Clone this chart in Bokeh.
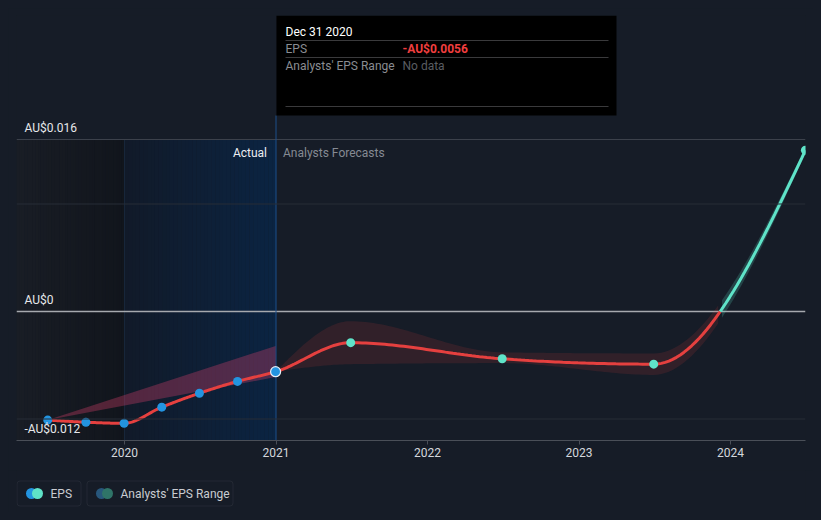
import numpy as np
import pandas as pd
from bokeh.plotting import figure
from bokeh.layouts import column
from bokeh.models import Range1d, FixedTicker, Span, BoxAnnotation
from bokeh.core.properties import value
from bokeh.embed import file_html
from bokeh.resources import INLINE

# ---------------- data ----------------
actual_dates = ["2019-06-30", "2019-09-30", "2019-12-31", "2020-03-31",
                "2020-06-30", "2020-09-30", "2020-12-31"]
actual_eps = [-0.0101, -0.0103, -0.0104, -0.0089, -0.0076, -0.0065, -0.0056]

forecast_dates = ["2021-06-30", "2022-06-30", "2023-06-30", "2024-06-30"]
forecast_eps = [-0.0029, -0.0044, -0.0049, 0.0150]

range_dates = ["2020-12-31", "2021-06-30", "2022-06-30", "2023-06-30", "2024-06-30"]
range_high = [-0.0056, -0.0009, -0.0038, -0.0039, 0.0153]
range_low = [-0.0056, -0.0049, -0.0048, -0.0059, 0.0147]

past_range_dates = ["2019-06-30", "2020-12-31"]
past_range_high = [-0.0101, -0.0032]
past_range_low = [-0.0101, -0.0061]

year_ticks = [2020, 2021, 2022, 2023, 2024]
y_label_values = [0.016, 0.0, -0.012]
y_label_texts = ["AU$0.016", "AU$0", "-AU$0.012"]
grid_values = [-0.01, 0.01]

tooltip_date = "Dec 31 2020"
tooltip_eps = "-AU$0.0056"

# ---------------- styles ----------------
BG = "#161c27"
RED = "#e5403f"
TEAL = "#5fe3c8"
BLUE = "#2394e0"
FONT = value("Roboto")


def to_year(dates):
    d = pd.to_datetime(pd.Series(dates))
    start = pd.to_datetime(d.dt.year.astype(str) + "-01-01")
    days = np.where(d.dt.is_leap_year, 366.0, 365.0)
    return (d.dt.year + (d - start).dt.days / days).to_numpy(float)


def monotone(xs, ys, n=40):
    xs = np.asarray(xs, float)
    ys = np.asarray(ys, float)
    m = len(xs)
    h = np.diff(xs)
    s = np.diff(ys) / h
    t = np.zeros(m)
    if m > 2:
        for i in range(1, m - 1):
            h0, h1 = h[i - 1], h[i]
            s0, s1 = s[i - 1], s[i]
            p = (s0 * h1 + s1 * h0) / (h0 + h1)
            t[i] = (np.sign(s0) + np.sign(s1)) * min(abs(s0), abs(s1), 0.5 * abs(p))
        t[0] = (3 * s[0] - t[1]) / 2
        t[-1] = (3 * s[-1] - t[-2]) / 2
    else:
        t[:] = s[0]
    ox, oy = [xs[0]], [ys[0]]
    u = np.linspace(0, 1, n + 1)[1:]
    for i in range(m - 1):
        x0, x1, y0, y1 = xs[i], xs[i + 1], ys[i], ys[i + 1]
        dx = h[i] / 3
        P = [(x0, y0), (x0 + dx, y0 + dx * t[i]), (x1 - dx, y1 - dx * t[i + 1]), (x1, y1)]
        b0 = (1 - u) ** 3
        b1 = 3 * u * (1 - u) ** 2
        b2 = 3 * u ** 2 * (1 - u)
        b3 = u ** 3
        ox.extend(b0 * P[0][0] + b1 * P[1][0] + b2 * P[2][0] + b3 * P[3][0])
        oy.extend(b0 * P[0][1] + b1 * P[1][1] + b2 * P[2][1] + b3 * P[3][1])
    return np.array(ox), np.array(oy)


# pixel helpers for annotation placement (layout only)
PPY = 151.5       # px per year
PPU = 10750.0     # px per EPS unit


def X(px):
    return 2020 + (px - 124) / PPY


def Y(py):
    return 0.016 + (139 - py) / PPU


x_start, x_end = X(16), X(805)
y_start, y_end = Y(440), Y(15)

ax = to_year(actual_dates)
fx = to_year(forecast_dates)
rx = to_year(range_dates)
px_ = to_year(past_range_dates)

p = figure(width=805, height=462, output_backend="svg", toolbar_location=None,
           x_range=Range1d(x_start, x_end), y_range=Range1d(y_start, y_end),
           min_border_left=8, min_border_right=8, min_border_top=7, min_border_bottom=30)
p.background_fill_color = BG
p.border_fill_color = BG
p.outline_line_color = None
p.grid.visible = False
p.yaxis.visible = False

# x-axis
p.xaxis.ticker = FixedTicker(ticks=year_ticks)
p.xaxis.major_label_overrides = {y: str(y) for y in year_ticks}
p.xaxis.axis_line_color = "#4a4f58"
p.xaxis.major_tick_line_color = "#4a4f58"
p.xaxis.major_tick_out = 4
p.xaxis.major_tick_in = 0
p.xaxis.minor_tick_line_color = None
p.xaxis.major_label_text_color = "#d4d7dc"
p.xaxis.major_label_text_font = "Roboto"
p.xaxis.major_label_text_font_size = "12px"
p.xaxis.major_label_standoff = 3


def gradient(x0, x1, c0, c1, steps=40):
    c0 = np.array([int(c0[i:i + 2], 16) for i in (1, 3, 5)], float)
    c1 = np.array([int(c1[i:i + 2], 16) for i in (1, 3, 5)], float)
    edges = np.linspace(x0, x1, steps + 1)
    cols = []
    for k in range(steps):
        f = k / (steps - 1)
        c = c0 + (c1 - c0) * f
        cols.append("#%02x%02x%02x" % tuple(int(round(v)) for v in c))
    p.quad(left=edges[:-1], right=edges[1:] + (x1 - x0) / steps * 0.05,
           bottom=y_start, top=0.016, fill_color=cols, line_color=None)


gradient(x_start, 2020.0, "#191d25", "#11151c")
gradient(2020.0, 2021.0, "#111a29", "#0b2442")
p.segment(x0=[2020.0], y0=[y_start], x1=[2020.0], y1=[0.016], line_color="#17263a", line_width=1)

# grid lines
for g in grid_values:
    p.add_layout(Span(location=g, dimension="width", line_color="#262c37", line_width=1))
p.segment(x0=[x_start], y0=[0.016], x1=[x_end], y1=[0.016], line_color="#3c414b", line_width=1)
p.segment(x0=[x_start], y0=[0.0], x1=[x_end], y1=[0.0], line_color="#a6a9ae", line_width=1.5)

# vertical "today" line
p.segment(x0=[2021.0], y0=[y_start], x1=[2021.0], y1=[Y(115)], line_color="#1d4f8a", line_width=1)

# past analyst range (linear)
p.varea(x=px_, y1=past_range_low, y2=past_range_high, fill_color="#d0406a", fill_alpha=0.35)

# forecast range band (smooth)
bx, bh = monotone(rx, range_high)
_, bl = monotone(rx, range_low)

# main line (smooth) through actual + forecast
all_x = np.concatenate([ax, fx])
all_y = np.concatenate([actual_eps, forecast_eps])
lx, ly = monotone(all_x, all_y)
idx = np.where((ly[:-1] < 0) & (ly[1:] >= 0))[0][0]
fr = -ly[idx] / (ly[idx + 1] - ly[idx])
xc = lx[idx] + fr * (lx[idx + 1] - lx[idx])

below = bx <= xc
above = bx >= xc
p.varea(x=bx[below], y1=bl[below], y2=bh[below], fill_color=RED, fill_alpha=0.13)
p.varea(x=bx[above], y1=bl[above], y2=bh[above], fill_color=TEAL, fill_alpha=0.2)

red_x = np.append(lx[:idx + 1], xc)
red_y = np.append(ly[:idx + 1], 0.0)
teal_x = np.insert(lx[idx + 1:], 0, xc)
teal_y = np.insert(ly[idx + 1:], 0, 0.0)
p.line(red_x, red_y, line_color=RED, line_width=3)
p.line(teal_x, teal_y, line_color=TEAL, line_width=3)

# points
p.scatter(ax[:-1], actual_eps[:-1], size=9, fill_color=BLUE, line_color=None)
p.scatter(ax[-1:], actual_eps[-1:], size=10, fill_color=BLUE, line_color="#e8eef5", line_width=1.2)
p.scatter(fx, forecast_eps, size=9, fill_color=TEAL, line_color=None)

# y labels
p.text(x=[x_start] * 3, y=y_label_values, text=y_label_texts, text_font=FONT,
       text_font_size="12px", text_color="#e6e8eb", text_baseline="bottom",
       text_align="left", x_offset=8, y_offset=-5)

# region labels
p.text(x=[2021.0], y=[0.016], text=["Actual"], text_font=FONT, text_font_size="12px",
       text_color="#eceef1", text_baseline="top", text_align="right", x_offset=-9, y_offset=6)
p.text(x=[2021.0], y=[0.016], text=["Analysts Forecasts"], text_font=FONT, text_font_size="12px",
       text_color="#858a93", text_baseline="top", text_align="left", x_offset=7, y_offset=6)

# tooltip
p.quad(left=[2021.0 + 0.003], right=[X(616)], bottom=[Y(115)], top=[y_end],
       fill_color="#000000", line_color=None)
p.segment(x0=[X(285)] * 3, x1=[X(608)] * 3, y0=[Y(40), Y(57), Y(106)], y1=[Y(40), Y(57), Y(106)],
          line_color="#3a3a3c", line_width=1)
p.text(x=[X(285)], y=[Y(31)], text=[tooltip_date], text_font=FONT, text_font_size="12px",
       text_color="#ffffff", text_baseline="middle")
p.text(x=[X(285), X(285)], y=[Y(48), Y(65)], text=["EPS", "Analysts' EPS Range"], text_font=FONT,
       text_font_size="12px", text_color="#8a8d92", text_baseline="middle")
p.text(x=[X(402)], y=[Y(48)], text=[tooltip_eps], text_font=FONT, text_font_size="12px",
       text_color="#f03e3e", text_font_style="bold", text_baseline="middle")
p.text(x=[X(402)], y=[Y(65)], text=["No data"], text_font=FONT, text_font_size="12px",
       text_color="#5a5d62", text_baseline="middle")

# ---------------- legend ----------------
# legend frame is aligned with the chart frame (page x 16..805); coordinates here are page pixels
leg = figure(width=805, height=42, output_backend="svg", toolbar_location=None,
             x_range=Range1d(16, 805), y_range=Range1d(42, 0),
             x_axis_location=None, y_axis_location=None,
             min_border=0, min_border_left=8, min_border_right=8, min_border_top=0, min_border_bottom=0)
leg.background_fill_color = BG
leg.border_fill_color = BG
leg.outline_line_color = None
leg.grid.visible = False
leg.add_layout(BoxAnnotation(left=16.5, right=80.5, top=10.5, bottom=35.5, fill_alpha=0,
                             line_color="#424751", line_width=1, border_radius=3, level="underlay"))
leg.add_layout(BoxAnnotation(left=86.5, right=232.5, top=10.5, bottom=35.5, fill_alpha=0,
                             line_color="#424751", line_width=1, border_radius=3, level="underlay"))
leg.scatter([31, 37], [23, 23], size=11, fill_color=[BLUE, TEAL], line_color=None)
leg.scatter([101, 107], [23, 23], size=11, fill_color=["#28577c", "#2f7468"], line_color=None)
leg.text(x=[50, 120], y=[23, 23], text=["EPS", "Analysts' EPS Range"], text_font=FONT,
         text_font_size="12px", text_color="#c9ccd1", text_baseline="middle")

layout = column(p, leg, spacing=0)
html = file_html(layout, INLINE)
html = html.replace("</head>", "<style>html,body{background:%s !important;}"
                    "body{margin:8px !important;height:auto !important;}</style></head>" % BG, 1)
open("out.html", "w").write(html)
